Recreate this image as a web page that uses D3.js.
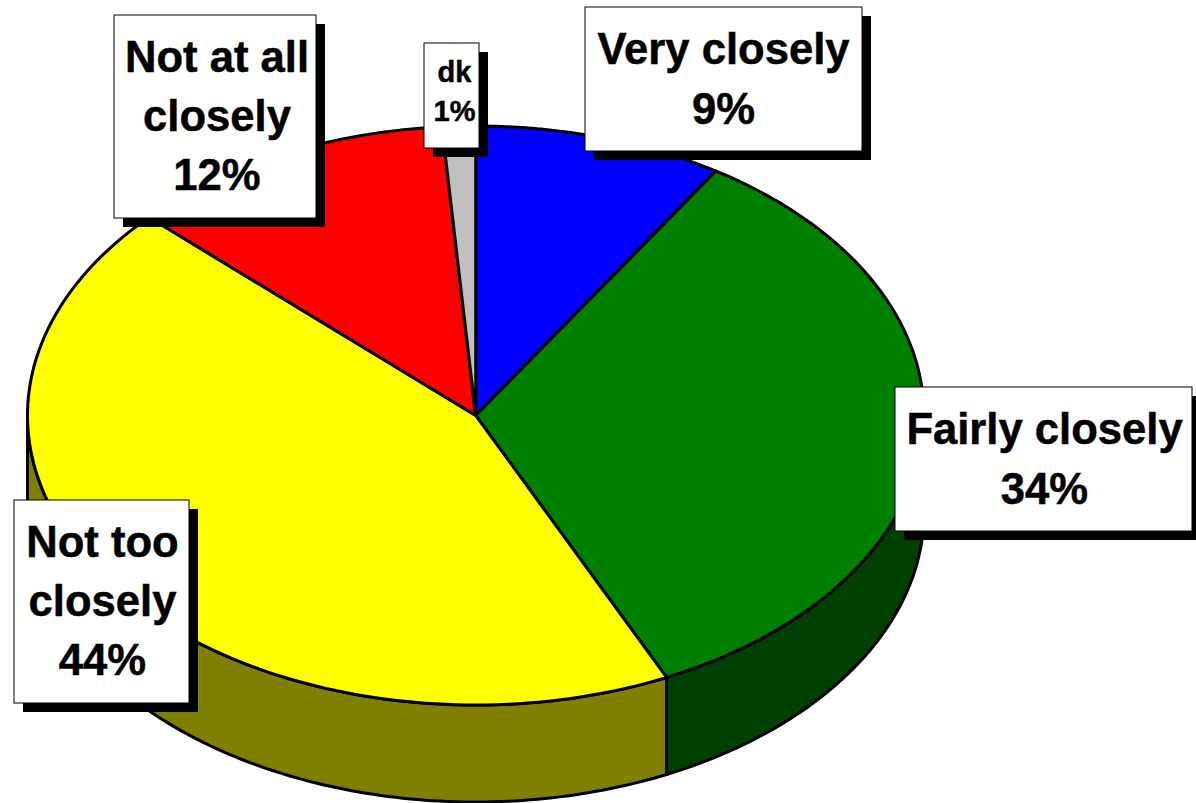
<!DOCTYPE html>
<html><head><meta charset="utf-8">
<script src="https://cdn.jsdelivr.net/npm/d3@7"></script>
<style>html,body{margin:0;padding:0;background:#fff;overflow:hidden}</style></head>
<body><svg id="c" width="1196" height="803"></svg>
<script>
const categories = ["Very closely","Fairly closely","Not too closely","Not at all closely","dk"];
const values = [9,34,44,11.8,1.2];
const topColors = ["#0000ff","#008000","#ffff00","#ff0000","#c0c0c0"];
const sideColors = ["#000080","#004000","#808000","#800000","#606060"];
const labelLines = [["Very closely","9%"],["Fairly closely","34%"],["Not too","closely","44%"],["Not at all","closely","12%"],["dk","1%"]];
const labelBoxes = [[585,7,277,144],[895,387,297,144],[14,500,175,203],[114,15,202,203],[424,43,55,105]];
const labelFont = [43.6,43.6,43.6,43.6,29];
const labelShift = [[0,-1],[1,-1],[1,-1],[2,-1],[3,-4]];

const svg = d3.select("#c");
const x = d3.scaleLinear().domain([-1,1]).range([27.5,924]);
const y = d3.scaleLinear().domain([-1,1]).range([705,126]);
const depth = 97;
const pie = d3.pie().sort(null).value(d=>d)(values);
const samples = (a,b)=>d3.range(0,121).map(i=>a+(b-a)*i/120);
const line = d3.line().x(t=>x(Math.sin(t))).y(t=>y(Math.cos(t)));

// side wall
pie.forEach((s,i)=>{
  const a=Math.max(s.startAngle,Math.PI/2), b=Math.min(s.endAngle,Math.PI*1.5);
  if(b<=a) return;
  const ts=samples(a,b);
  const pts=ts.map(t=>[x(Math.sin(t)),y(Math.cos(t))]);
  const low=ts.slice().reverse().map(t=>[x(Math.sin(t)),y(Math.cos(t))+depth]);
  svg.append("path").attr("d",d3.line()(pts.concat(low))+"Z")
    .attr("fill",sideColors[i]).attr("stroke","#000").attr("stroke-width",3).attr("stroke-linejoin","round");
});
// top
pie.forEach((s,i)=>{
  const p=line(samples(s.startAngle,s.endAngle));
  svg.append("path").attr("d",`M${x(0)},${y(0)}L${p.slice(1)}Z`)
    .attr("fill",topColors[i]).attr("stroke","#000").attr("stroke-width",3).attr("stroke-linejoin","round");
});
// labels
categories.forEach((c,i)=>{
  const [bx,by,bw,bh]=labelBoxes[i], fs=labelFont[i], sh=9;
  const g=svg.append("g");
  g.append("rect").attr("x",bx+sh).attr("y",by+sh).attr("width",bw).attr("height",bh).attr("fill","#000");
  g.append("rect").attr("x",bx).attr("y",by).attr("width",bw).attr("height",bh).attr("fill","#fff").attr("stroke","#000").attr("stroke-width",1);
  const lines=labelLines[i], lh=i===4?39:(i===2||i===3?59:60);
  const first=by+bh/2-(lines.length-1)*lh/2+labelShift[i][1];
  lines.forEach((t,j)=>g.append("text").attr("x",bx+bw/2+labelShift[i][0]).attr("y",first+j*lh).attr("dy","0.36em")
    .attr("text-anchor","middle").attr("font-family","Liberation Sans").attr("font-weight","bold")
    .attr("font-size",fs).attr("fill","#000").attr("stroke","#000").attr("stroke-width",0.5).text(t));
});
</script></body></html>
